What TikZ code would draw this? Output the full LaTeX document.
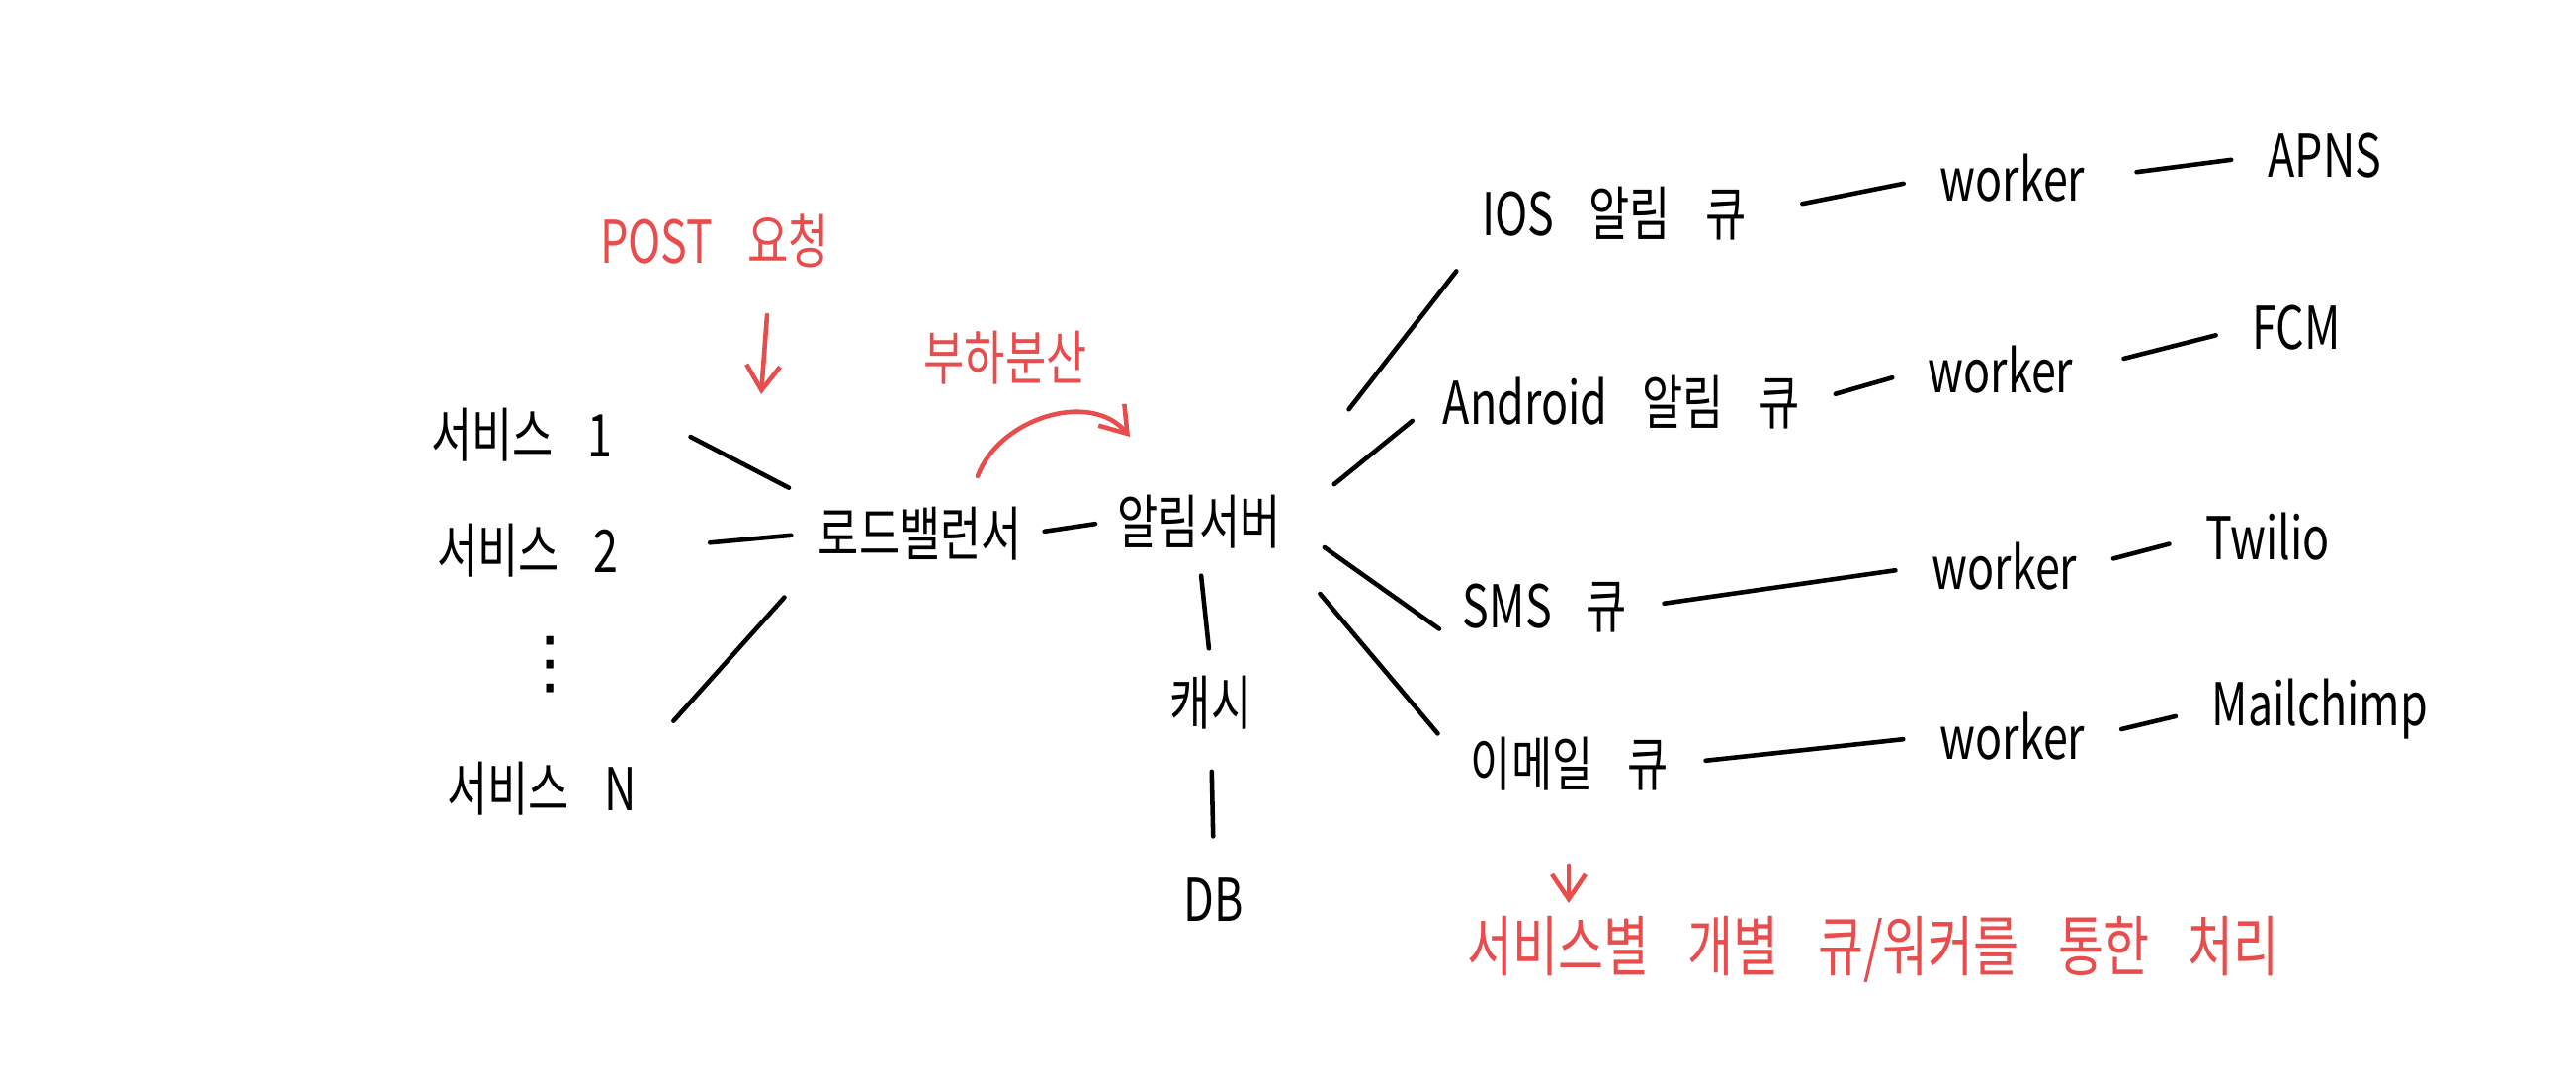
\documentclass[tikz,border=0pt]{standalone}
\usepackage{fontspec}
\setmainfont{Noto Sans CJK KR}[FakeStretch=0.75, WordSpace=3.5]
\newfontfamily\symfont{DejaVu Sans}
\usetikzlibrary{arrows.meta}
\definecolor{penred}{RGB}{232,76,76}

\begin{document}
\begin{tikzpicture}[
    lbl/.style={inner sep=2pt, font=\fontsize{17}{20}\selectfont},
    memo/.style={lbl, text=penred},
    wire/.style={line width=1.3pt, line cap=round, shorten <=0.3cm, shorten >=0.3cm},
    pointer/.style={penred, line width=1.3pt, line cap=round, -{Straight Barb[length=2.5mm,width=3.4mm]}}
]
    \useasboundingbox (0,0) rectangle (26.06,10.88);

    \node[lbl] (Svc1) at (5.28,6.48) {서비스 1};
    \node[lbl] (Svc2) at (5.34,5.31) {서비스 2};
    \node[lbl, font=\symfont\fontsize{20}{22}\selectfont] (Dots) at (5.57,4.15) {⋮};
    \node[lbl] (SvcN) at (5.48,2.90) {서비스 N};
    \node[lbl] (LB) at (9.31,5.48) {로드밸런서};
    \node[lbl] (Notif) at (12.13,5.60) {알림서버};
    \node[lbl] (Cache) at (12.25,3.77) {캐시};
    \node[lbl] (DB) at (12.28,1.77) {DB};

    \node[memo] (Post) at (7.23,8.44) {POST 요청};
    \node[memo] (Balance) at (10.17,7.26) {부하분산};
    \coordinate (PostFrom) at (7.76,7.69);
    \coordinate (PostTo) at (7.70,6.89);
    \coordinate (ArcFrom) at (9.89,6.06);
    \coordinate (ArcTo) at (11.43,6.46);

    \node[lbl] (QIos) at (16.33,8.72) {IOS 알림 큐};
    \node[lbl] (QAndroid) at (16.40,6.81) {Android 알림 큐};
    \node[lbl] (QSms) at (15.63,4.73) {SMS 큐};
    \node[lbl] (QMail) at (15.88,3.15) {이메일 큐};
    \node[lbl] (W1) at (20.36,9.08) {worker};
    \node[lbl] (W2) at (20.24,7.14) {worker};
    \node[lbl] (W3) at (20.28,5.15) {worker};
    \node[lbl] (W4) at (20.36,3.43) {worker};
    \node[lbl] (APNS) at (23.52,9.30) {APNS};
    \node[lbl] (FCM) at (23.23,7.56) {FCM};
    \node[lbl] (Twilio) at (22.94,5.45) {Twilio};
    \node[lbl] (Mailchimp) at (23.47,3.70) {Mailchimp};

    \node[memo, font=\fontsize{19}{22}\selectfont] (Note) at (18.95,1.27) {서비스별 개별 큐/워커를 통한 처리};
    \coordinate (NoteFrom) at (15.87,2.12);
    \coordinate (NoteTo) at (15.87,1.74);

    \draw[wire, shorten <=0.8cm, shorten >=0.25cm] (Svc1.north east) -- (LB.north west);
    \draw[wire, shorten <=0.85cm, shorten >=0.2cm] (Svc2.east) -- (LB.west);
    \draw[wire, shorten <=0.45cm, shorten >=0.4cm] (SvcN.north east) -- (LB.south west);
    \draw[wire, shorten <=0.15cm, shorten >=0.15cm] (LB.east) -- (Notif.west);
    \draw[wire, shorten <=0.2cm, shorten >=0.2cm] (Notif.south) -- (Cache.north);
    \draw[wire, shorten <=0.35cm, shorten >=0.35cm] (Cache.south) -- (DB.north);

    \draw[wire, shorten <=1.0cm, shorten >=0.3cm] (Notif.north east) -- (QIos.south west);
    \draw[wire, shorten <=0.6cm, shorten >=0.3cm] (Notif.east) -- (QAndroid.west);
    \draw[wire, shorten <=0.45cm, shorten >=0.2cm] (Notif.east) -- (QSms.south west);
    \draw[wire, shorten <=0.5cm, shorten >=0.4cm] (Notif.south east) -- (QMail.west);

    \draw[wire, shorten <=0.5cm] (QIos.east) -- (W1.west);
    \draw[wire, shorten <=0.45cm] (W1.east) -- (APNS.west);
    \draw[wire] (QAndroid.east) -- (W2.west);
    \draw[wire, shorten <=0.45cm] (W2.east) -- (FCM.west);
    \draw[wire] (QSms.east) -- (W3.west);
    \draw[wire] (W3.east) -- (Twilio.west);
    \draw[wire] (QMail.east) -- (W4.west);
    \draw[wire] (W4.east) -- (Mailchimp.west);

    \draw[pointer] (PostFrom) -- (PostTo);
    \draw[pointer] (ArcFrom) to[out=70, in=130] (ArcTo);
    \draw[pointer] (NoteFrom) -- (NoteTo);
\end{tikzpicture}
\end{document}
